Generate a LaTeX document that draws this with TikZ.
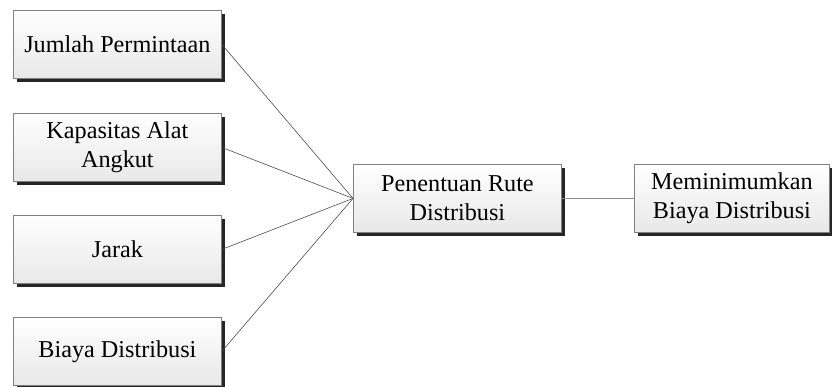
\documentclass[tikz,border=0pt]{standalone}
\usepackage{fontspec}
\setmainfont{Liberation Serif}
\usetikzlibrary{shadows}
\begin{document}
\begin{tikzpicture}[x=1bp,y=-1bp,
  box/.style={draw=black!50, line width=0.8bp, top color=white, bottom color=black!9,
    minimum width=208bp, minimum height=68bp, align=center, inner sep=0pt, anchor=north west,
    font=\fontsize{24.3}{29}\selectfont,
    drop shadow={shadow xshift=3.5bp, shadow yshift=-3.5bp, fill=black!85, opacity=1}},
  conn/.style={draw=black!70, line width=0.6bp}]
\useasboundingbox (0,0) rectangle (832,386);
\node[box] (b1) at (13,10) {Jumlah Permintaan};
\node[box] (b2) at (13,113) {Kapasitas Alat\\Angkut};
\node[box] (b3) at (13,215) {Jarak};
\node[box] (b4) at (13,317) {Biaya Distribusi};
\node[box] (c) at (353,164) {Penentuan Rute\\Distribusi};
\node[box, minimum width=195bp] (r) at (634,164) {Meminimumkan\\Biaya Distribusi};
\draw[conn] (b1.east) -- (c.west);
\draw[conn] (b2.east) -- (c.west);
\draw[conn] (b3.east) -- (c.west);
\draw[conn] (b4.east) -- (c.west);
\draw[conn, draw=black!45] (c.east) -- (r.west);
\end{tikzpicture}
\end{document}
